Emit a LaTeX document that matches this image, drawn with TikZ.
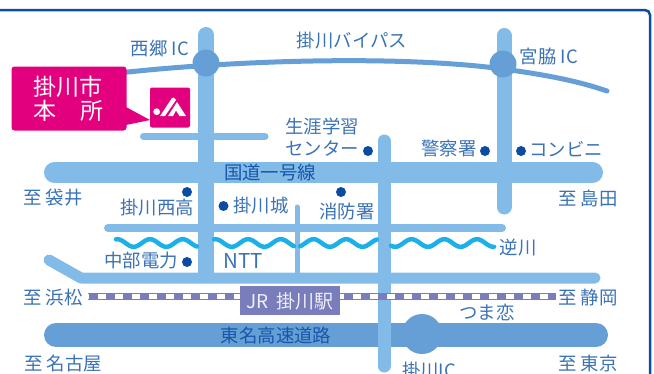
\documentclass[tikz,border=0pt]{standalone}
\usepackage{fontspec}
\setmainfont{Noto Sans CJK JP}
\definecolor{roadc}{HTML}{82BBE8}
\definecolor{expc}{HTML}{659FD6}
\definecolor{framec}{HTML}{0A4CA2}
\definecolor{txtc}{HTML}{3A72B6}
\definecolor{pinkc}{HTML}{E3007F}
\definecolor{riverc}{HTML}{1DB0E8}
\definecolor{railc}{HTML}{7A7DBB}
\tikzset{
 x=1pt,y=-1pt,
 lbl/.style={text=txtc,font=\fontsize{18.4}{18.4}\selectfont,inner sep=0pt},
 place/.style={fill=framec,circle,inner sep=0pt,minimum size=10pt},
 road/.style={draw=roadc,line cap=round,line join=round},
 river/.style={draw=riverc,line width=4.5pt,line cap=round},
 icnode/.style={fill=expc,circle,inner sep=0pt},
}
\newcommand{\wave}[2]{\draw[river] plot[domain=#1:#2,samples=70,smooth] (\x,{243-3.8*cos(11.009*(\x-150))});}
\begin{document}
\begin{tikzpicture}
\useasboundingbox (0,0) rectangle (654,373);
\clip (0,0) rectangle (654,373);
% frame
\draw[framec,line width=2.5pt,rounded corners=5pt] (-5,10) -- (650,10) -- (650,380);
% expressway
\draw[expc,line width=24pt,line cap=round] (56,335) -- (596,335);
\node[icnode,minimum size=40pt] (kakegawaic) at (422,334) {};
% roads
\draw[road,line width=21pt] (54.5,172.5) -- (592.5,172.5);
\draw[road,line width=16pt] (206,35) -- (206,275);
\draw[road,line width=15pt] (504,35.5) -- (504,207);
\draw[road,line width=7pt] (143.5,136.5) -- (265,136.5);
\draw[road,line width=8pt] (108,228) -- (502,228);
\draw[road,line width=5pt] (297,207) -- (297,275);
\draw[road,line width=11pt] (49,260) -- (81,278) -- (595,278);
\draw[road,line width=13pt] (384,141) -- (384,366);
% bypass
\draw[expc,line width=5pt,line cap=round] (110,74) .. controls (230,60) and (400,55) .. (503,69) .. controls (540,74) and (575,80) .. (607,91);
\node[icnode,minimum size=27pt] (nishigo) at (206,63) {};
\node[icnode,minimum size=27pt] (miyawaki) at (503,64) {};
% river
\wave{116}{197}
\wave{214}{294}
\wave{300}{377}
\wave{391}{494}
% rail
\draw[railc,line width=7.5pt] (88,296.5) -- (556,296.5);
\draw[white,line width=5.5pt,dash pattern=on 7.7pt off 9.3pt,dash phase=-10.3pt] (88,296.5) -- (556,296.5);
\node[fill=railc,minimum width=100pt,minimum height=29pt,inner sep=0pt] (jr) at (290,300.5) {};
\node[text=white!88!railc,font=\fontsize{19}{19}\selectfont,inner sep=0pt] (jrt) at (290,301) {JR\hspace{3pt} 掛川駅};
% city hall
\fill[pinkc] (126,107) -- (150,120) -- (126,125) -- cycle;
\node[fill=pinkc,rounded corners=3pt,minimum width=115pt,minimum height=64pt,inner sep=0pt] (hall) at (69,98.5) {};
\node[text=white,font=\fontsize{23}{23}\selectfont,inner sep=0pt] (hall1) at (68.5,87) {掛川市};
\node[text=white,font=\fontsize{23}{23}\selectfont,inner sep=0pt] (hall2) at (68.5,111) {本\hspace{24pt}所};
\node[fill=pinkc,rounded corners=2pt,minimum width=40pt,minimum height=40pt,inner sep=0pt] (ja) at (170,107.5) {};
\fill[white] (156.7,111.7) circle[radius=3.4];
\fill[white] (160,116) -- (165,116) -- (176,100) -- (174,97.7) -- (172,98) -- cycle;
\fill[white] (168,116) -- (173,116) -- (176,110.5) -- (179.5,116) -- (186,116) -- (177,102) -- cycle;
% places
\node[place] (d1) at (187,192) {};
\node[place] (d2) at (223.5,206) {};
\node[place] (d3) at (341,192) {};
\node[place] (d4) at (368,151) {};
\node[place] (d5) at (485,151) {};
\node[place] (d6) at (521,151) {};
\node[place] (d7) at (187,262) {};
% labels
\node[lbl] (t1) at (160,49) {西郷 IC};
\node[lbl] (t2) at (352,41) {掛川バイパス};
\node[lbl] (t3) at (549,57) {宮脇 IC};
\node[lbl] (t4) at (322,126) {生涯学習};
\node[lbl] (t5) at (322,148) {センター};
\node[lbl] (t6) at (449,149) {警察署};
\node[lbl] (t7) at (566,149) {コンビニ};
\node[lbl,text=framec!70!txtc] (t8) at (270,172.5) {国道一号線};
\node[lbl] (t9) at (53,198) {至 袋井};
\node[lbl] (t10) at (588,198) {至 島田};
\node[lbl] (t11) at (157,208) {掛川西高};
\node[lbl] (t12) at (261,206) {掛川城};
\node[lbl] (t13) at (347,212) {消防署};
\node[lbl] (t14) at (518,248) {逆川};
\node[lbl] (t15) at (141,261) {中部電力};
\node[lbl,font=\fontsize{20.5}{20.5}\selectfont] (t16) at (243.5,261) {NTT};
\node[lbl] (t17) at (53,298) {至 浜松};
\node[lbl] (t18) at (588,298) {至 静岡};
\node[lbl,fill=white,inner sep=1pt,rounded corners=3pt] (t19) at (487,312) {つま恋};
\node[lbl,text=framec!70!txtc] (t20) at (276,335) {東名高速道路};
\node[lbl] (t21) at (63,363) {至 名古屋};
\node[lbl] (t22) at (588,363) {至 東京};
\node[lbl] (t23) at (429,371) {掛川IC};
\end{tikzpicture}
\end{document}
